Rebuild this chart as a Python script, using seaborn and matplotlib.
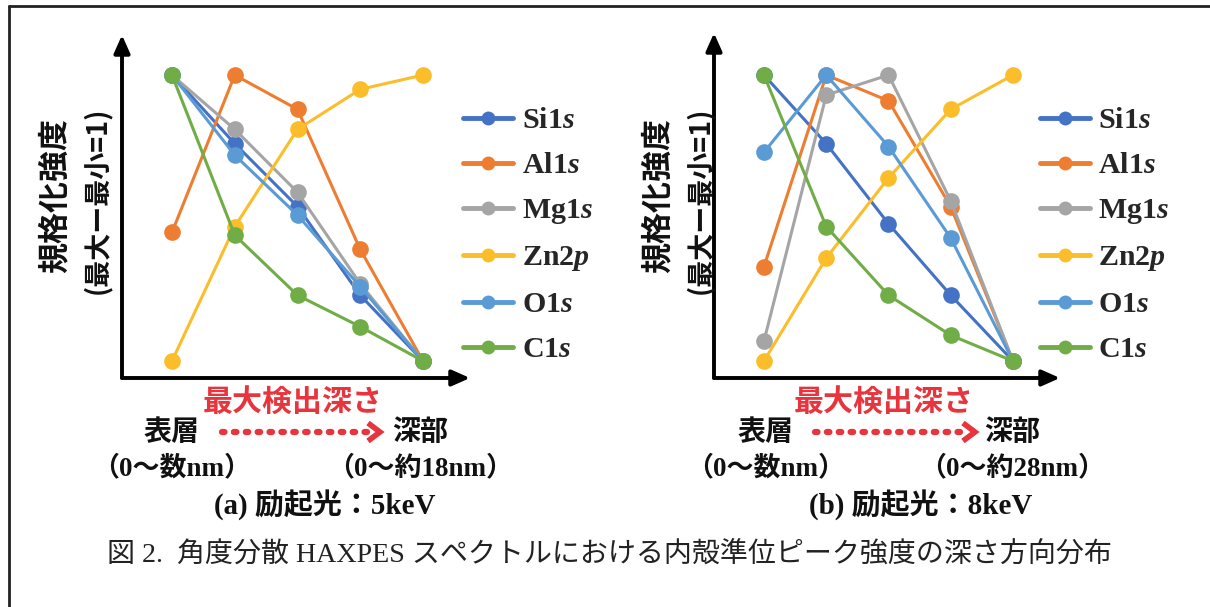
import numpy as np
import pandas as pd
import matplotlib
matplotlib.use("Agg")
import matplotlib.pyplot as plt
from matplotlib.lines import Line2D
import seaborn as sns

# ---- data -------------------------------------------------------------
peaks = ["Si1s", "Al1s", "Mg1s", "Zn2p", "O1s", "C1s"]
peak_labels = [r"$\mathrm{Si1}s$", r"$\mathrm{Al1}s$", r"$\mathrm{Mg1}s$",
               r"$\mathrm{Zn2}p$", r"$\mathrm{O1}s$", r"$\mathrm{C1}s$"]
peak_colors = ["#4472C4", "#ED7D31", "#A5A5A5", "#FCBD2A", "#5B9BD5", "#70AD47"]
depth_steps = [0, 1, 2, 3, 4]

# (a) excitation 5 keV
si_5kev = [1.00, 0.76, 0.54, 0.23, 0.00]
al_5kev = [0.45, 1.00, 0.88, 0.39, 0.00]
mg_5kev = [1.00, 0.81, 0.59, 0.27, 0.00]
zn_5kev = [0.00, 0.47, 0.81, 0.95, 1.00]
o_5kev = [1.00, 0.72, 0.51, 0.26, 0.00]
c_5kev = [1.00, 0.44, 0.23, 0.12, 0.00]

# (b) excitation 8 keV
si_8kev = [1.00, 0.76, 0.48, 0.23, 0.00]
al_8kev = [0.33, 1.00, 0.91, 0.54, 0.00]
mg_8kev = [0.07, 0.93, 1.00, 0.56, 0.00]
zn_8kev = [0.00, 0.36, 0.64, 0.88, 1.00]
o_8kev = [0.73, 1.00, 0.75, 0.43, 0.00]
c_8kev = [1.00, 0.47, 0.23, 0.09, 0.00]

series_5kev = [si_5kev, al_5kev, mg_5kev, zn_5kev, o_5kev, c_5kev]
series_8kev = [si_8kev, al_8kev, mg_8kev, zn_8kev, o_8kev, c_8kev]

# ---- style ------------------------------------------------------------
sns.set_theme(style="white")
plt.rcParams["font.family"] = ["Liberation Serif", "Noto Sans CJK JP"]
plt.rcParams["mathtext.fontset"] = "custom"
plt.rcParams["mathtext.rm"] = "Liberation Serif:bold"
plt.rcParams["mathtext.it"] = "Liberation Serif:bold:italic"

W, H = 1210, 607
fig = plt.figure(figsize=(W / 100, H / 100), dpi=100)
fig.patch.set_facecolor("white")

RED = "#E8343C"
INK = "#111111"
GOTHIC = ["Noto Sans CJK JP"]
MIXED = ["Liberation Serif", "Noto Sans CJK JP"]


def fx(x):
    return x / W


def fy(y):
    return 1 - y / H


def pt(px):
    return px * 72 / 100


def long_frame(series):
    rows = []
    for name, vals in zip(peaks, series):
        for d, v in zip(depth_steps, vals):
            rows.append({"peak": name, "depth": d, "intensity": v})
    return pd.DataFrame(rows)


def draw_panel(series, box, xlim, ylim, legend_x, texts):
    left, top, right, bottom = box
    ax = fig.add_axes([fx(left), fy(bottom), fx(right - left), (bottom - top) / H])
    df = long_frame(series)
    sns.lineplot(data=df, x="depth", y="intensity", hue="peak", hue_order=peaks,
                 palette=peak_colors, marker="o", markersize=12, markeredgewidth=0,
                 linewidth=2.2, legend=False, ax=ax, clip_on=False)
    ax.set_xlim(*xlim)
    ax.set_ylim(*ylim)
    ax.set_xticks([])
    ax.set_yticks([])
    ax.set_xlabel("")
    ax.set_ylabel("")
    for s in ax.spines.values():
        s.set_visible(False)
    ax.patch.set_alpha(0)
    arrow = dict(arrowstyle="-|>,head_length=0.9,head_width=0.4", color="black",
                 lw=2.8, shrinkA=0, shrinkB=0)
    ax.annotate("", xy=(0, 1), xytext=(0, 0), xycoords="axes fraction",
                arrowprops=arrow, annotation_clip=False)
    ax.annotate("", xy=(1, 0), xytext=(0, 0), xycoords="axes fraction",
                arrowprops=arrow, annotation_clip=False)

    handles = [Line2D([], [], color=c, lw=3.5, marker="o", markersize=10,
                      markeredgewidth=0) for c in peak_colors]
    fig.legend(handles, peak_labels, loc="center left",
               bbox_to_anchor=(fx(legend_x), fy(235)), frameon=False,
               fontsize=pt(30), handlelength=1.65, handletextpad=0.3,
               labelspacing=0.6, borderpad=0, borderaxespad=0)

    # y-axis caption
    ylab_x1, ylab_x2, ylab_y1, ylab_y2 = texts["ylab"]
    fig.text(fx(ylab_x1), fy(ylab_y1), "規格化強度", rotation=90, ha="center",
             va="center", family=GOTHIC, fontsize=pt(31), fontweight="bold",
             color=INK)
    fig.text(fx(ylab_x2), fy(ylab_y2), "(最大ー最小=1)", rotation=90, ha="center",
             va="center", family=GOTHIC, fontsize=pt(27), fontweight="bold",
             color=INK)

    # depth annotation under the x axis
    cx_red, cx_surf, cx_deep, arr0, arr1, cx_title = texts["depth"]
    fig.text(fx(cx_red), fy(402), "最大検出深さ", ha="center", va="center",
             family=GOTHIC, fontsize=pt(30), fontweight="bold", color=RED)
    fig.text(fx(cx_surf), fy(432), "表層", ha="center", va="center",
             family=GOTHIC, fontsize=pt(28), fontweight="bold", color=INK)
    fig.text(fx(cx_deep), fy(432), "深部", ha="center", va="center",
             family=GOTHIC, fontsize=pt(28), fontweight="bold", color=INK)
    fig.add_artist(Line2D([fx(arr0), fx(arr1 - 8)], [fy(432), fy(432)], color=RED,
                          lw=4.5, linestyle=(0, (0.4, 1.5)),
                          solid_capstyle="round", dash_capstyle="round"))
    fig.add_artist(Line2D([fx(arr1 - 12), fx(arr1), fx(arr1 - 12)],
                          [fy(423), fy(432), fy(441)], color=RED, lw=4,
                          solid_joinstyle="miter", solid_capstyle="butt"))
    fig.text(fx(cx_surf), fy(468), "（0〜数nm）", ha="center", va="center",
             family=MIXED, fontsize=pt(27), fontweight="bold", color=INK)
    fig.text(fx(cx_deep), fy(468), texts["deep_range"], ha="center", va="center",
             family=MIXED, fontsize=pt(27), fontweight="bold", color=INK)
    fig.text(fx(cx_title), fy(505), texts["title"], ha="center", va="center",
             family=MIXED, fontsize=pt(29), fontweight="bold", color=INK)
    return ax


draw_panel(series_5kev, (122, 35, 470, 378), (-0.797, 4.749), (-0.0594, 1.140), 463,
           {"ylab": (55, 97, 195, 200),
            "depth": (293, 172, 420, 222, 380, 325),
            "deep_range": "（0〜約18nm）",
            "title": "(a) 励起光：5keV"})
draw_panel(series_8kev, (714, 33, 1060, 378), (-0.803, 4.755), (-0.0594, 1.147), 1040,
           {"ylab": (658, 700, 195, 200),
            "depth": (884, 766, 1012, 815, 975, 921),
            "deep_range": "（0〜約28nm）",
            "title": "(b) 励起光：8keV"})

# figure caption
fig.text(fx(609), fy(555),
         "図 2.  角度分散 HAXPES スペクトルにおける内殻準位ピーク強度の深さ方向分布",
         ha="center", va="center", family=MIXED, fontsize=pt(28), color="#222222")

# outer frame
fig.add_artist(Line2D([fx(9), 1.0], [fy(6), fy(6)], color="#222222", lw=2))
fig.add_artist(Line2D([fx(9), fx(9)], [fy(6), 0.0], color="#222222", lw=2))

fig.savefig("out.png", dpi=100, facecolor="white")
